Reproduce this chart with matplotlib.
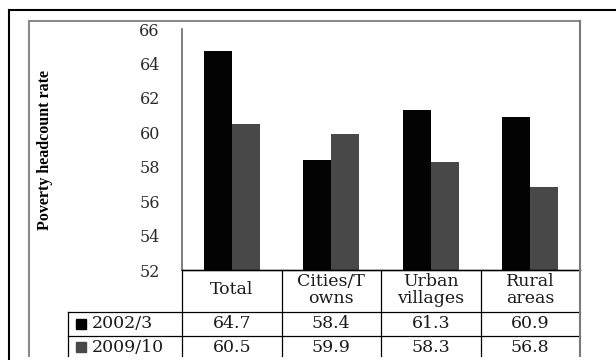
import numpy as np
import matplotlib.pyplot as plt
from matplotlib.lines import Line2D

categories = ['Total', 'Cities/T\nowns', 'Urban\nvillages', 'Rural\nareas']
series_labels = ['2002/3', '2009/10']
values_2002 = [64.7, 58.4, 61.3, 60.9]
values_2009 = [60.5, 59.9, 58.3, 56.8]
yticks = [52, 54, 56, 58, 60, 62, 64, 66]
colors = ['#030303', '#484848']

W, H = 616, 360
fig = plt.figure(figsize=(W / 100, H / 100), dpi=100)


def px(x0, y0, x1, y1):
    # pixel box (top-left origin) -> figure fraction rect
    return [x0 / W, 1 - y1 / H, (x1 - x0) / W, (y1 - y0) / H]


serif = 'DejaVu Serif'
txt_col = '#1a1a1a'

# bars
ax = fig.add_axes(px(182, 29, 580, 270))
x = np.arange(len(categories))
bw = 0.28
ax.bar(x - bw / 2, values_2002, bw, color=colors[0])
ax.bar(x + bw / 2, values_2009, bw, color=colors[1])
ax.set_xlim(-0.5, 3.5)
ax.set_ylim(52, 66)
ax.set_yticks(yticks)
ax.set_xticks([])
ax.tick_params(axis='y', length=0, pad=16, labelsize=11.5, labelcolor='#2a2a2a')
for t in ax.get_yticklabels():
    t.set_family(serif)
ax.spines['top'].set_visible(False)
ax.spines['right'].set_visible(False)
ax.spines['bottom'].set_color('black')
ax.spines['bottom'].set_linewidth(1.0)
ax.spines['left'].set_color('#6a6a6a')
ax.spines['left'].set_linewidth(1.2)

# data table under the plot
unit = 398 / 4
tab = fig.add_axes(px(68, 270, 580, 360))
x0 = -0.5 - 114 / unit
tab.set_xlim(x0, 3.5)
tab.set_ylim(90, 0)
tab.axis('off')
lk = dict(color='black', lw=0.9, clip_on=False)
tab.plot([-0.5, 3.5], [0, 0], **lk)
tab.plot([x0, 3.5], [42, 42], **lk)
tab.plot([x0, 3.5], [66, 66], **lk)
tab.plot([x0, x0], [42, 86], **lk)
for xv in [-0.5, 0.5, 1.5, 2.5]:
    tab.plot([xv, xv], [0, 86], **lk)

for i, c in enumerate(categories):
    tab.text(i, 20, c, ha='center', va='center', fontsize=12.5,
             family=serif, linespacing=1.05, color=txt_col)

rows = [values_2002, values_2009]
row_y = [54, 77]
for r, (lab, vals) in enumerate(zip(series_labels, rows)):
    tab.plot([x0 + 13 / unit], [row_y[r]], marker='s', ms=6.5,
             color=colors[r], clip_on=False)
    tab.text(x0 + 24 / unit, row_y[r], lab, ha='left', va='center',
             fontsize=12.5, family=serif, color=txt_col)
    for i, v in enumerate(vals):
        tab.text(i, row_y[r], f'{v:.1f}', ha='center', va='center',
                 fontsize=12.5, family=serif, color=txt_col)

# axis title
fig.text(45 / W, 1 - 150 / H, 'Poverty headcount rate', rotation=90,
         ha='center', va='center', fontsize=11.5, fontweight='bold',
         family='Liberation Serif')

# outer / inner frames
def fline(xs, ys, **kw):
    fig.add_artist(Line2D([v / W for v in xs], [1 - v / H for v in ys], **kw))

fline([9, 9], [10, 360], color='black', lw=1.5)
fline([9, 616], [10, 10], color='black', lw=1.5)
fline([29, 29], [21, 356], color='#8a8a8a', lw=1.5)
fline([29, 580], [21, 21], color='#8a8a8a', lw=1.5)
fline([580, 580], [21, 356], color='#7a7a7a', lw=1.5)

fig.savefig('out.png', dpi=100)
